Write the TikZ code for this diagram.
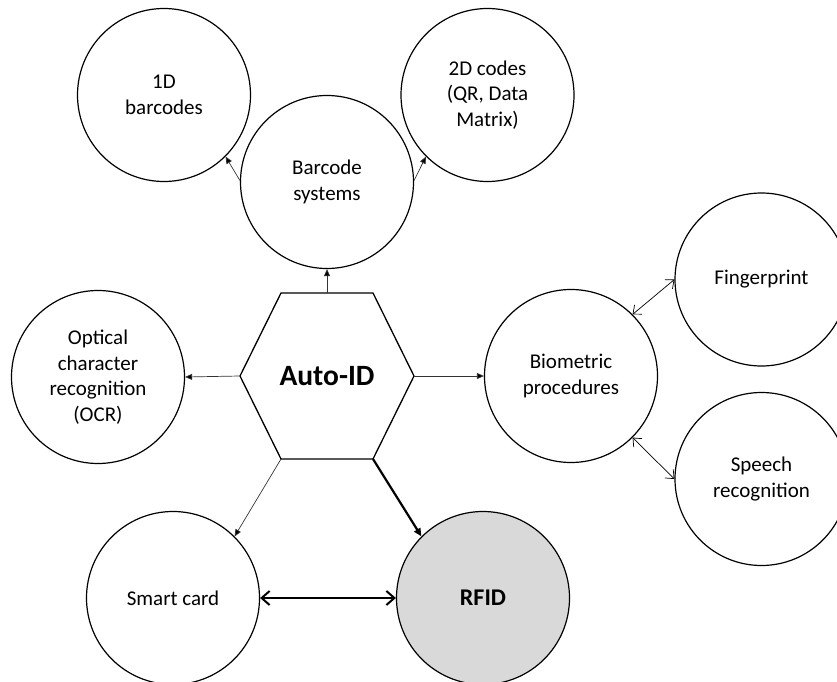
\documentclass[tikz,border=0pt]{standalone}
\usepackage{fontspec}
\setmainfont{Carlito}
\usetikzlibrary{arrows.meta}
\definecolor{rfidgray}{HTML}{D9D9D9}
\begin{document}
\begin{tikzpicture}[x=1bp,y=-1bp,
  topic/.style={circle,draw,line width=1.2bp,minimum size=173bp,inner sep=0pt,
    align=center,font=\fontsize{21bp}{25.6bp}\selectfont},
  link/.style={line width=0.7bp,draw=black!80,-{Triangle[length=7bp,width=6bp,fill=black]}},
  heavylink/.style={line width=2.2bp,-{Triangle[length=8bp,width=7bp]}},
  pair/.style={line width=0.7bp,{Straight Barb[length=7bp,width=12bp]}-{Straight Barb[length=7bp,width=12bp]}},
  heavypair/.style={line width=2bp,{Straight Barb[length=8bp,width=14bp]}-{Straight Barb[length=8bp,width=14bp]}}
]
\useasboundingbox (0,0) rectangle (837,682);
\clip (0,0) rectangle (837,682);

% central hexagon
\coordinate (hw)  at (240,376);
\coordinate (hnw) at (281,293);
\coordinate (hne) at (373,293);
\coordinate (he)  at (414,376);
\coordinate (hse) at (373,459);
\coordinate (hsw) at (281,459);
\coordinate (htop) at (327,293);
\draw[line width=1.3bp] (hw) -- (hnw) -- (hne) -- (he) -- (hse) -- (hsw) -- cycle;
\node[font=\fontsize{29.5bp}{34bp}\selectfont\bfseries] (autoid) at (327,376) {Auto-ID};

% surrounding technologies
\node[topic] (barcode) at (327,182) {Barcode\\systems};
\node[topic] (d1) at (164,95) {1D\\barcodes};
\node[topic] (d2) at (487.5,95) {2D codes\\(QR, Data\\Matrix)};
\node[topic] (ocr) at (98,377) {Optical\\character\\recognition\\(OCR)};
\node[topic] (bio) at (571,376) {Biometric\\procedures};
\node[topic] (finger) at (761.5,279.5) {Fingerprint};
\node[topic] (speech) at (761.5,479) {Speech\\recognition};
\node[topic] (smart) at (173,598) {Smart card};
\node[topic,fill=rfidgray,font=\fontsize{24bp}{29bp}\selectfont\bfseries] (rfid) at (483,598) {RFID};

% connectors
\draw[link] (htop) -- (barcode);
\draw[link] (barcode.179) -- (d1.-45);
\draw[link] (barcode.1) -- (d2.-135);
\draw[link] (hw) -- (ocr.east);
\draw[link] (he) -- (bio.west);
\draw[link] (hsw) -- (smart.45);
\draw[heavylink] (hse) -- (rfid.135);
\draw[pair] (bio.45) -- (finger.180);
\draw[pair] (bio.-45) -- (speech.180);
\draw[heavypair] (smart.east) -- (rfid.west);
\end{tikzpicture}
\end{document}
